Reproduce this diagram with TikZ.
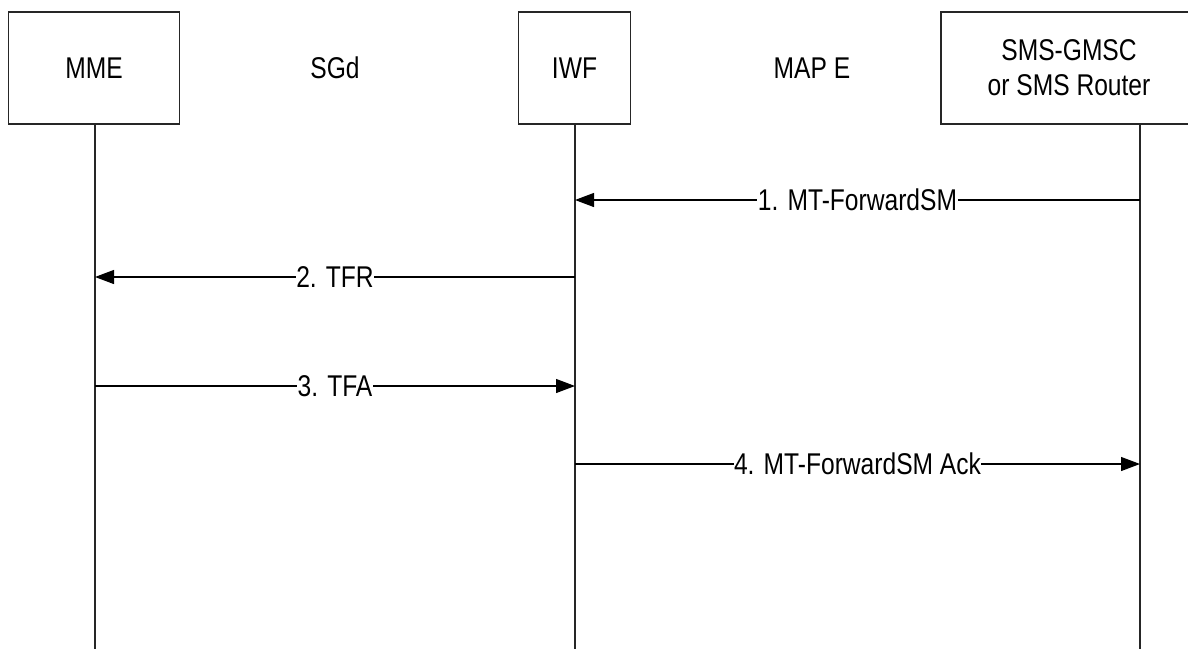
\documentclass[tikz,border=0pt]{standalone}
\usepackage{fontspec}
\setmainfont[FakeStretch=0.82]{Liberation Sans}
\usetikzlibrary{arrows.meta}
\tikzset{
  entity/.style={draw=black!85, line width=1.3pt, fill=white, minimum height=112pt, inner sep=0pt, align=center, font=\fontsize{30}{35}\selectfont},
  iface/.style={inner sep=0pt, font=\fontsize{30}{35}\selectfont},
  lifeline/.style={draw=black!85, line width=1.1pt},
  msg/.style={draw=black, line width=1.2pt, -{Triangle[length=19pt,width=14pt]}},
  msglabel/.style={fill=white, inner xsep=0.5pt, inner ysep=2pt, font=\fontsize{30}{35}\selectfont}
}
\begin{document}
\begin{tikzpicture}[x=1pt,y=-1pt]
\useasboundingbox (0,0) rectangle (1188,648);
\begin{scope}
\clip (0,0) rectangle (1188,648);
% entities
\node[entity, minimum width=171pt] (mme) at (94,68) {MME};
\node[entity, minimum width=112pt] (iwf) at (574.5,68) {IWF};
\node[entity, minimum width=256pt] (sms) at (1069,68) {SMS-GMSC\\or SMS Router};
% interface labels
\node[iface] (sgd) at (335,68) {SGd};
\node[iface] (mape) at (812,68) {MAP E};
% lifelines
\coordinate (mmeT) at (95,124);  \coordinate (mmeB) at (95,650);
\coordinate (iwfT) at (575,124); \coordinate (iwfB) at (575,650);
\coordinate (smsT) at (1140,124); \coordinate (smsB) at (1140,650);
\draw[lifeline] (mmeT) -- (mmeB);
\draw[lifeline] (iwfT) -- (iwfB);
\draw[lifeline] (smsT) -- (smsB);
% message anchors
\coordinate (s1) at (1140,200); \coordinate (e1) at (575,200);
\coordinate (s2) at (575,277);  \coordinate (e2) at (95,277);
\coordinate (s3) at (95,386);   \coordinate (e3) at (575,386);
\coordinate (s4) at (575,464);  \coordinate (e4) at (1140,464);
\draw[msg] (s1) -- (e1) node[msglabel, midway] (l1) {1. MT-ForwardSM};
\draw[msg] (s2) -- (e2) node[msglabel, midway] (l2) {2. TFR};
\draw[msg] (s3) -- (e3) node[msglabel, midway] (l3) {3. TFA};
\draw[msg] (s4) -- (e4) node[msglabel, midway] (l4) {4. MT-ForwardSM Ack};
\end{scope}
\end{tikzpicture}
\end{document}
